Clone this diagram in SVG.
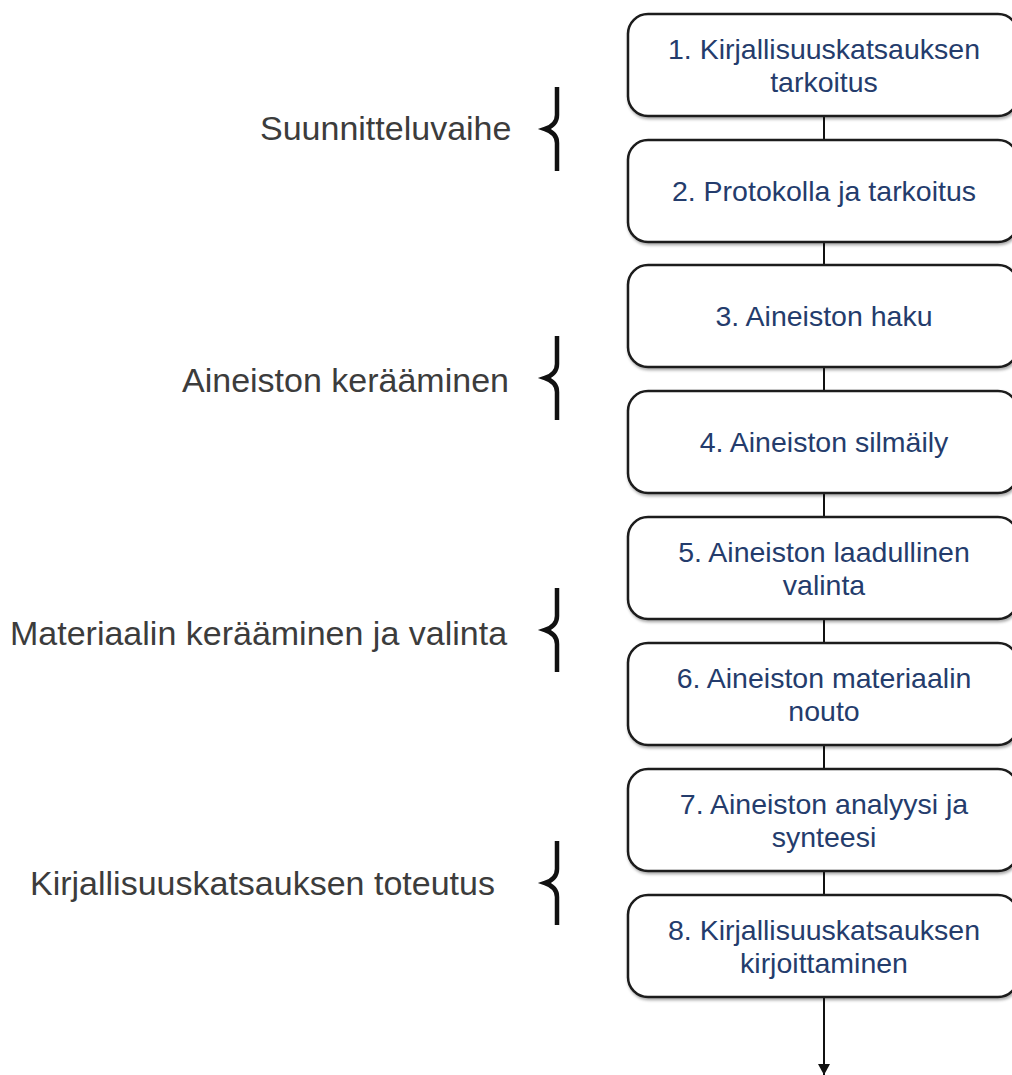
<svg xmlns="http://www.w3.org/2000/svg" width="1012" height="1075" viewBox="0 0 1012 1075">
<defs>
<style>
.box{fill:#ffffff;stroke:#1a1a1a;stroke-width:2.5;filter:url(#sh)}
.bt{font-family:"Liberation Sans",Arial,sans-serif;font-size:28.5px;fill:#243c6c;text-anchor:middle}
.lb{font-family:"Liberation Sans",Arial,sans-serif;font-size:34px;fill:#3c3c3c}
.br{fill:none;stroke:#111;stroke-width:4.5}
.cn{stroke:#111;stroke-width:2;fill:none}
</style>
<filter id="sh" x="-10%" y="-10%" width="120%" height="130%">
<feDropShadow dx="1" dy="2" stdDeviation="1.5" flood-color="#000" flood-opacity="0.35"/>
</filter>
<marker id="ah" markerWidth="12" markerHeight="12" refX="11" refY="6" orient="auto" markerUnits="userSpaceOnUse">
<path d="M0,0 L11,6 L0,12 Z" fill="#111"/>
</marker>
<path id="brace" class="br" d="M12,-42 L12,-14 Q12,-4 0,0 Q12,4 12,14 L12,42"/>
</defs>
<rect width="1012" height="1075" fill="#ffffff"/>
<g id="connectors">
<line class="cn" x1="824" y1="116" x2="824" y2="140"/>
<line class="cn" x1="824" y1="242" x2="824" y2="265"/>
<line class="cn" x1="824" y1="367" x2="824" y2="391"/>
<line class="cn" x1="824" y1="493" x2="824" y2="517"/>
<line class="cn" x1="824" y1="619" x2="824" y2="643"/>
<line class="cn" x1="824" y1="745" x2="824" y2="769"/>
<line class="cn" x1="824" y1="871" x2="824" y2="895"/>
<line class="cn" x1="824" y1="997" x2="824" y2="1075" marker-end="url(#ah)"/>
</g>
<g id="node1"><rect class="box" x="628" y="14" width="390" height="102" rx="20"/><text class="bt" x="824" y="59">1. Kirjallisuuskatsauksen</text><text class="bt" x="824" y="92">tarkoitus</text></g>
<g id="node2"><rect class="box" x="628" y="140" width="390" height="102" rx="20"/><text class="bt" x="824" y="201">2. Protokolla ja tarkoitus</text></g>
<g id="node3"><rect class="box" x="628" y="265" width="390" height="102" rx="20"/><text class="bt" x="824" y="326">3. Aineiston haku</text></g>
<g id="node4"><rect class="box" x="628" y="391" width="390" height="102" rx="20"/><text class="bt" x="824" y="452">4. Aineiston silmäily</text></g>
<g id="node5"><rect class="box" x="628" y="517" width="390" height="102" rx="20"/><text class="bt" x="824" y="562">5. Aineiston laadullinen</text><text class="bt" x="824" y="595">valinta</text></g>
<g id="node6"><rect class="box" x="628" y="643" width="390" height="102" rx="20"/><text class="bt" x="824" y="688">6. Aineiston materiaalin</text><text class="bt" x="824" y="721">nouto</text></g>
<g id="node7"><rect class="box" x="628" y="769" width="390" height="102" rx="20"/><text class="bt" x="824" y="814">7. Aineiston analyysi ja</text><text class="bt" x="824" y="847">synteesi</text></g>
<g id="node8"><rect class="box" x="628" y="895" width="390" height="102" rx="20"/><text class="bt" x="824" y="940">8. Kirjallisuuskatsauksen</text><text class="bt" x="824" y="973">kirjoittaminen</text></g>
<g id="group1"><text class="lb" x="260" y="140">Suunnitteluvaihe</text><use href="#brace" x="545" y="129"/></g>
<g id="group2"><text class="lb" x="182" y="392">Aineiston kerääminen</text><use href="#brace" x="545" y="378"/></g>
<g id="group3"><text class="lb" x="10" y="645">Materiaalin kerääminen ja valinta</text><use href="#brace" x="545" y="630"/></g>
<g id="group4"><text class="lb" x="30" y="895">Kirjallisuuskatsauksen toteutus</text><use href="#brace" x="545" y="883"/></g>
</svg>
